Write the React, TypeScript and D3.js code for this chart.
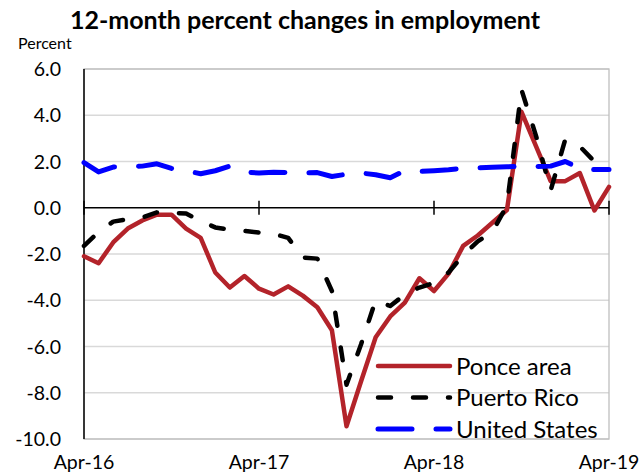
import React from 'react'
import * as d3 from 'd3'

// monthly, Apr-16 .. Apr-19 (37 points)
const ponceArea = [
  -2.1, -2.4, -1.5, -0.9, -0.55, -0.3, -0.3, -0.9, -1.3, -2.8, -3.45, -2.95,
  -3.5, -3.75, -3.4, -3.8, -4.3, -5.3, -9.45, -7.5, -5.6, -4.7, -4.1, -3.05,
  -3.6, -2.85, -1.65, -1.2, -0.65, -0.1, 4.15, 2.65, 1.15, 1.15, 1.5, -0.12,
  0.9,
]
const puertoRico = [
  -1.65, -1.05, -0.6, -0.5, -0.42, -0.2, -0.22, -0.25, -0.57, -0.85, -0.95, -1.0,
  -1.07, -1.13, -1.3, -2.15, -2.2, -3.6, -7.65, -5.9, -4.0, -4.25, -3.75, -3.45,
  -3.25, -2.8, -2.05, -1.45, -1.05, 0.1, 5.1, 3.1, 0.75, 2.95, 2.65, 2.0,
  1.7,
]
const unitedStates = [
  1.95, 1.55, 1.76, 1.79, 1.8, 1.9, 1.7, 1.6, 1.47, 1.6, 1.8, 1.55,
  1.5, 1.54, 1.52, 1.5, 1.52, 1.35, 1.45, 1.5, 1.43, 1.3, 1.6, 1.57,
  1.6, 1.64, 1.7, 1.72, 1.75, 1.77, 1.79, 1.78, 1.8, 2.0, 1.7, 1.65,
  1.65,
]
const xTickLabels = ['Apr-16', 'Apr-17', 'Apr-18', 'Apr-19']
const xTickIndex = [0, 12, 24, 36]
const yTicks = [6, 4, 2, 0, -2, -4, -6, -8, -10]

const series = [
  { name: 'Ponce area', values: ponceArea, color: '#B3232A', width: 4.5, dash: null },
  { name: 'Puerto Rico', values: puertoRico, color: '#000000', width: 4.5, dash: '13 22' },
  { name: 'United States', values: unitedStates, color: '#0000FF', width: 5, dash: '34 24' },
]

const font = 'Lato, "Open Sans", sans-serif'

export default function App() {
  const width = 644
  const height = 475
  const left = 84, right = 609, top = 69, bottom = 439

  const x = d3.scaleLinear().domain([0, 36]).range([left, right])
  const y = d3.scaleLinear().domain([-10, 6]).range([bottom, top])

  const line = d3.line<number>()
    .x((d, i) => x(i))
    .y(d => y(d))

  return (
    <svg width={width} height={height} style={{ position: 'absolute', left: 0, top: 0, background: '#fff' }}>
      <rect x={0} y={0} width={width} height={height} fill="#fff" />
      <text x={305} y={29} textAnchor="middle" fontFamily={font} fontWeight="bold" fontSize={25} fill="#000">
        12-month percent changes in employment
      </text>
      <text x={18} y={49} fontFamily={font} fontSize={16} fill="#000">Percent</text>

      {/* gridlines */}
      {yTicks.map(t => (
        <line key={'g' + t} x1={left} x2={right} y1={y(t)} y2={y(t)}
          stroke={t === 0 ? 'none' : '#D9D9D9'} strokeWidth={1.3} />
      ))}
      {/* plot border */}
      <rect x={left} y={top} width={right - left} height={bottom - top} fill="none" stroke="#BFBFBF" strokeWidth={1.3} />

      {/* y axis labels */}
      {yTicks.map(t => (
        <text key={'yl' + t} x={61} y={y(t) + 7} textAnchor="end" fontFamily={font} fontSize={19.5} fill="#000">
          {t.toFixed(1)}
        </text>
      ))}

      {/* axes */}
      <line x1={left} x2={left} y1={top} y2={bottom} stroke="#000" strokeWidth={1.5} />
      <line x1={left} x2={right} y1={y(0)} y2={y(0)} stroke="#000" strokeWidth={1.5} />
      {xTickIndex.map(i => (
        <line key={'xt' + i} x1={x(i)} x2={x(i)} y1={y(0) - 7} y2={y(0) + 7} stroke="#000" strokeWidth={1.5} />
      ))}
      {xTickIndex.map((i, k) => (
        <text key={'xl' + i} x={x(i)} y={469} textAnchor="middle" fontFamily={font} fontSize={19.5} fill="#000">
          {xTickLabels[k]}
        </text>
      ))}

      {/* series */}
      {series.map(s => (
        <path key={s.name} d={line(s.values) || ''} fill="none" stroke={s.color} strokeWidth={s.width}
          strokeDasharray={s.dash || undefined} strokeLinecap="round" strokeLinejoin="round" />
      ))}

      {/* legend */}
      {series.map((s, k) => {
        const ly = 366 + k * 31.5
        return (
          <g key={'lg' + s.name}>
            <line x1={378} x2={450} y1={ly} y2={ly} stroke={s.color} strokeWidth={s.width}
              strokeDasharray={s.dash || undefined} strokeLinecap="round" />
            <text x={456} y={ly + 8.5} fontFamily={font} fontSize={24} fill="#000">{s.name}</text>
          </g>
        )
      })}
    </svg>
  )
}
